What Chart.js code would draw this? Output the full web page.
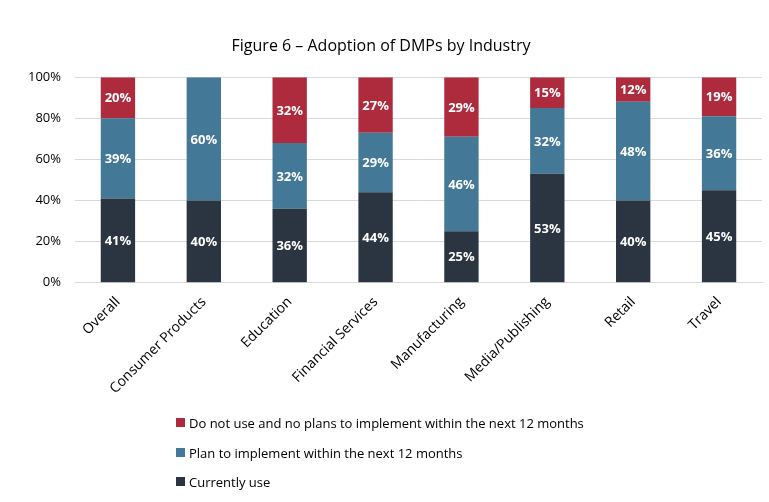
<!DOCTYPE html>
<html><head><meta charset="utf-8">
<script src="https://cdn.jsdelivr.net/npm/chart.js@4"></script>
<style>
html,body{margin:0;padding:0;background:#fff;}
#wrap{position:relative;width:769px;height:502px;}
#legend{position:absolute;left:176px;top:414px;font-family:"Open Sans",sans-serif;font-size:13px;color:#000;}
#legend div{height:29.5px;display:flex;align-items:flex-start;}
#legend span.box{display:inline-block;width:9px;height:9px;margin-right:4px;margin-top:4px;}
</style></head>
<body>
<div id="wrap"><canvas id="c" width="769" height="502"></canvas><div id="legend"></div></div>
<script>
const categories = ["Overall","Consumer Products","Education","Financial Services","Manufacturing","Media/Publishing","Retail","Travel"];
const currentlyUse = [41,40,36,44,25,53,40,45];
const planToImplement = [39,60,32,29,46,32,48,36];
const doNotUse = [20,0,32,27,29,15,12,19];
const yTicks = [0,20,40,60,80,100];
const seriesNames = ["Currently use","Plan to implement within the next 12 months","Do not use and no plans to implement within the next 12 months"];
const colors = ["#2a3541","#437896","#ad2b3d"];

const FONT = '"Open Sans", sans-serif';

const labelPlugin = {
  id:'barLabels',
  afterDatasetsDraw(chart){
    const ctx = chart.ctx;
    ctx.save();
    ctx.fillStyle = '#fff';
    ctx.font = 'bold 13px ' + FONT;
    ctx.textAlign = 'center';
    ctx.textBaseline = 'middle';
    chart.data.datasets.forEach((ds,di)=>{
      const meta = chart.getDatasetMeta(di);
      meta.data.forEach((bar,i)=>{
        const v = ds.data[i];
        if(!v) return;
        const p = bar.getProps(['x','y','base'],true);
        ctx.fillText(v+'%', p.x, (p.y+p.base)/2 + 1);
      });
    });
    ctx.restore();
  }
};

const chart = new Chart(document.getElementById('c'),{
  type:'bar',
  data:{
    labels:categories,
    datasets:[
      {label:seriesNames[0],data:currentlyUse,backgroundColor:colors[0]},
      {label:seriesNames[1],data:planToImplement,backgroundColor:colors[1]},
      {label:seriesNames[2],data:doNotUse,backgroundColor:colors[2]}
    ]
  },
  options:{
    responsive:false,
    animation:false,
    devicePixelRatio:1,
    datasets:{bar:{barPercentage:0.4,categoryPercentage:1.0,borderWidth:0}},
    layout:{padding:{top:37,right:7,bottom:102,left:0}},
    plugins:{
      legend:{display:false},
      tooltip:{enabled:false},
      title:{display:true,text:'Figure 6 – Adoption of DMPs by Industry',color:'#000',
        font:{family:FONT,size:16,weight:'normal'},padding:{top:0,bottom:21}}
    },
    scales:{
      x:{stacked:true,
        grid:{display:false},
        border:{display:true,color:'#d9d9d9',width:1},
        ticks:{color:'#000',font:{family:FONT,size:14},minRotation:45,maxRotation:45,padding:3,autoSkip:false}
      },
      y:{stacked:true,min:0,max:100,
        afterBuildTicks(s){ s.ticks = yTicks.map(v=>({value:v})); },
        afterFit(s){ s.width = 75; },
        grid:{color:'#d9d9d9',drawTicks:false},
        border:{display:false},
        ticks:{color:'#000',font:{family:FONT,size:13},padding:14,callback:v=>v+'%'}
      }
    }
  },
  plugins:[labelPlugin]
});

const leg = document.getElementById('legend');
[2,1,0].forEach(i=>{
  const d = document.createElement('div');
  const b = document.createElement('span'); b.className='box'; b.style.background=colors[i];
  d.appendChild(b);
  d.appendChild(document.createTextNode(seriesNames[i]));
  leg.appendChild(d);
});
</script>
</body></html>
